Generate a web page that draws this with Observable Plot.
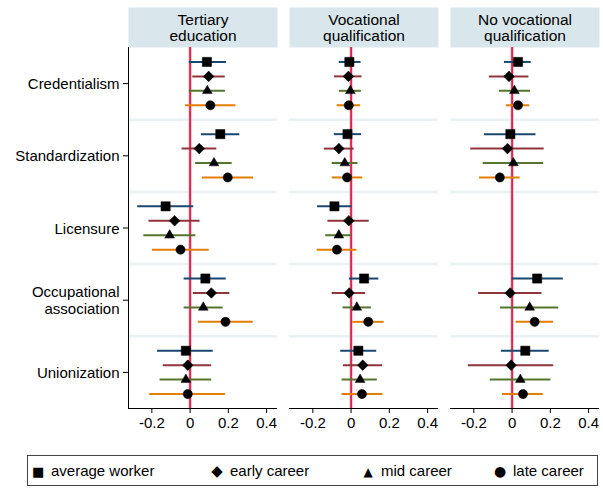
<!DOCTYPE html>
<html><head><meta charset="utf-8">
<script src="https://cdn.jsdelivr.net/npm/d3@7"></script>
<script src="https://cdn.jsdelivr.net/npm/@observablehq/plot@0.6"></script>
<style>
body{margin:0;background:#fff;font-family:"Liberation Sans",Arial,sans-serif;}
#legend{position:relative;margin:5px 0 0 27px;width:569px;height:29px;border:1px solid #444;font-size:15px;color:#000;}
#legend span.item{position:absolute;top:6px;white-space:nowrap;}
#legend span.sym{font-family:"DejaVu Sans";font-size:13px;margin-right:7px;display:inline-block;width:12px;text-align:center;}
</style></head>
<body><div id="chart"></div><div id="legend"></div>
<script>
const panels = ["Tertiary education", "Vocational qualification", "No vocational qualification"];
const panelLabels = ["Tertiary\neducation", "Vocational\nqualification", "No vocational\nqualification"];
const categories = ["Credentialism", "Standardization", "Licensure", "Occupational association", "Unionization"];
const categoryLabels = ["Credentialism", "Standardization", "Licensure", "Occupational\nassociation", "Unionization"];
const series = ["average worker", "early career", "mid career", "late career"];
const xTicks = [-0.2, 0, 0.2, 0.4];

// rows: categories; columns: series (average, early, mid, late)
const tertiaryEst = [[0.088, 0.097, 0.090, 0.106], [0.158, 0.048, 0.125, 0.197], [-0.128, -0.081, -0.107, -0.050], [0.080, 0.111, 0.069, 0.185], [-0.022, -0.012, -0.022, -0.012]];
const tertiaryLo  = [[-0.004, 0.014, -0.004, -0.024], [0.059, -0.042, 0.029, 0.064], [-0.274, -0.215, -0.242, -0.197], [-0.031, 0.017, -0.031, 0.043], [-0.170, -0.140, -0.157, -0.211]];
const tertiaryHi  = [[0.190, 0.184, 0.185, 0.240], [0.260, 0.140, 0.220, 0.332], [0.019, 0.052, 0.030, 0.100], [0.189, 0.208, 0.173, 0.330], [0.121, 0.113, 0.113, 0.185]];

const vocationalEst = [[-0.009, -0.014, -0.004, -0.012], [-0.019, -0.064, -0.033, -0.021], [-0.087, -0.012, -0.064, -0.074], [0.068, -0.010, 0.030, 0.090], [0.038, 0.061, 0.047, 0.057]];
const vocationalLo  = [[-0.062, -0.087, -0.061, -0.073], [-0.088, -0.140, -0.099, -0.099], [-0.175, -0.121, -0.133, -0.177], [-0.009, -0.099, -0.042, 0.009], [-0.054, -0.040, -0.047, -0.047]];
const vocationalHi  = [[0.052, 0.057, 0.054, 0.050], [0.055, 0.016, 0.036, 0.061], [0.003, 0.095, 0.003, 0.030], [0.145, 0.076, 0.106, 0.173], [0.134, 0.165, 0.137, 0.166]];

const noVocationalEst = [[0.031, -0.016, 0.012, 0.031], [-0.009, -0.024, 0.007, -0.064], [null, null, null, null], [0.131, -0.010, 0.092, 0.118], [0.069, -0.005, 0.043, 0.057]];
const noVocationalLo  = [[-0.040, -0.119, -0.066, -0.030], [-0.145, -0.216, -0.151, -0.170], [null, null, null, null], [0.000, -0.175, -0.061, 0.021], [-0.056, -0.229, -0.114, -0.050]];
const noVocationalHi  = [[0.100, 0.088, 0.097, 0.092], [0.125, 0.168, 0.165, 0.042], [null, null, null, null], [0.268, 0.156, 0.244, 0.217], [0.194, 0.218, 0.203, 0.163]];

const panelData = [[tertiaryEst, tertiaryLo, tertiaryHi], [vocationalEst, vocationalLo, vocationalHi], [noVocationalEst, noVocationalLo, noVocationalHi]];

const colors = ["#1a476f", "#90353b", "#55752f", "#e37e00"];
const symbols = ["square", "diamond2", "triangle", "circle"];
const radii = [5.2, 4.8, 3.6, 4.6];
const offsets = [-0.3, -0.1, 0.1, 0.3];

const table = [];
panelData.forEach(([est, lo, hi], p) => {
  categories.forEach((c, i) => {
    series.forEach((s, j) => {
      if (est[i][j] == null) return;
      table.push({panel: panels[p], cat: c, series: s, pos: i + offsets[j], est: est[i][j], lo: lo[i][j], hi: hi[i][j], r: radii[j]});
    });
  });
});

const headers = panels.map((p, k) => ({panel: p, label: panelLabels[k]}));
const xDomain = [-0.322, 0.457];

const chart = Plot.plot({
  width: 603, height: 450,
  marginLeft: 127, marginRight: 2, marginTop: 47, marginBottom: 42,
  style: {fontFamily: "Liberation Sans, Arial, sans-serif", fontSize: "15px", color: "#000", background: "#fff"},
  fx: {domain: panels, axis: null, paddingInner: 0.074, paddingOuter: 0},
  x: {domain: xDomain},
  y: {domain: [-0.5, 4.5], reverse: true},
  color: {domain: series, range: colors},
  symbol: {domain: series, range: symbols},
  r: {type: "identity"},
  marks: [
    Plot.frame({fill: "#d9e6eb", insetTop: -40, insetBottom: 361}),
    Plot.text(headers, {fx: "panel", text: "label", frameAnchor: "top", lineAnchor: "middle", dy: -20, fontSize: 15.5, lineHeight: 1.05, fill: "#000"}),
    Plot.ruleY([0.5, 1.5, 2.5, 3.5], {stroke: "#eaf1f3", strokeWidth: 2.5}),
    Plot.ruleX([0], {stroke: "#f1a3b5", strokeWidth: 3}),
    Plot.ruleX([0], {stroke: "#d2103c", strokeWidth: 1.5}),
    Plot.ruleY(table, {fx: "panel", y: "pos", x1: "lo", x2: "hi", stroke: "series", strokeWidth: 2}),
    Plot.dot(table, {fx: "panel", x: "est", y: "pos", symbol: "series", r: "r", fill: "#000", stroke: "#000", strokeWidth: 0.5}),
    Plot.ruleY([4.5], {stroke: "#000", strokeWidth: 1}),
    Plot.ruleX([{panel: panels[0], x: xDomain[0]}], {fx: "panel", x: "x", stroke: "#000", strokeWidth: 1}),
    Plot.axisX({ticks: xTicks, tickFormat: d => String(d), tickSize: 5, tickPadding: 4, fontSize: 15, stroke: "#000"}),
    Plot.axisY({ticks: [0, 1, 2, 3, 4], tickFormat: i => categoryLabels[i], tickSize: 5, tickPadding: 4, fontSize: 15, lineHeight: 1.15, stroke: "#000", label: null})
  ]
});
document.getElementById("chart").appendChild(chart);

const legendSyms = ["■", "◆", "▲", "●"];
const legendSymSize = [13, 15, 12, 14];
const legendLeft = [4, 183, 334, 466];
const legend = document.getElementById("legend");
series.forEach((s, j) => {
  const item = document.createElement("span");
  item.className = "item";
  item.style.left = legendLeft[j] + "px";
  const sym = document.createElement("span");
  sym.className = "sym";
  sym.style.fontSize = legendSymSize[j] + "px";
  sym.textContent = legendSyms[j];
  item.appendChild(sym);
  item.appendChild(document.createTextNode(s));
  legend.appendChild(item);
});
</script></body></html>
